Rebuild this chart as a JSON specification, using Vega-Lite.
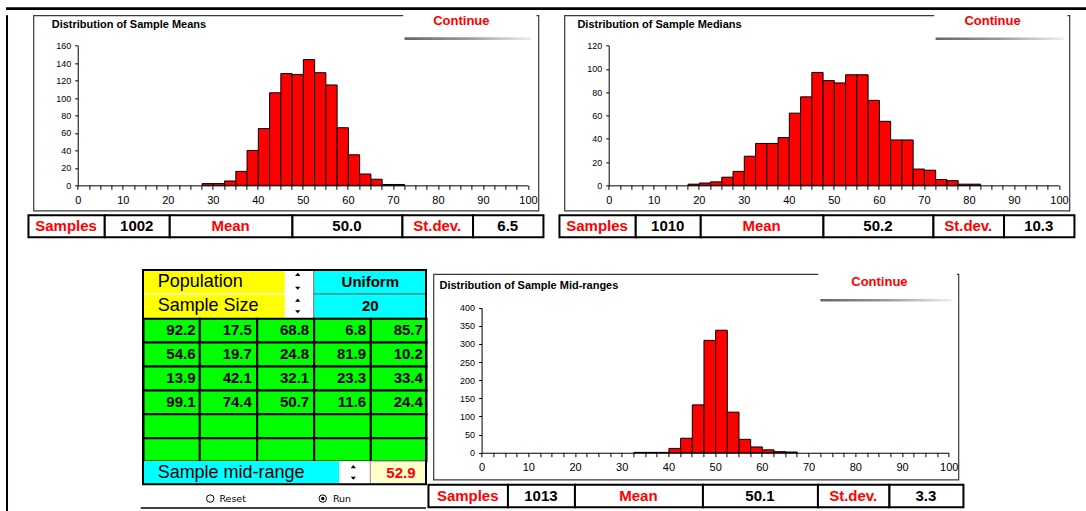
{
"$schema": "https://vega.github.io/schema/vega-lite/v6.json",
"background": "#FFFFFF",
"padding": {"left": 6, "top": 7.35, "right": 0, "bottom": 0},
"config": {"view": {"stroke": null}, "text": {"font": "Liberation Sans"}, "axis": {"labelFont": "Liberation Sans", "tickCount": 200, "format": "d"}},
"datasets": {
 "means": [
  {"start":27.5,"end":30,"count":2},{"start":30,"end":32.5,"count":2},{"start":32.5,"end":35,"count":5},{"start":35,"end":37.5,"count":16},
  {"start":37.5,"end":40,"count":40},{"start":40,"end":42.5,"count":65},{"start":42.5,"end":45,"count":106},{"start":45,"end":47.5,"count":128},
  {"start":47.5,"end":50,"count":127},{"start":50,"end":52.5,"count":144},{"start":52.5,"end":55,"count":129},{"start":55,"end":57.5,"count":115},
  {"start":57.5,"end":60,"count":66},{"start":60,"end":62.5,"count":35},{"start":62.5,"end":65,"count":13},{"start":65,"end":67.5,"count":7},
  {"start":67.5,"end":70,"count":1},{"start":70,"end":72.5,"count":1}],
 "medians": [
  {"start":17.5,"end":20,"count":1},{"start":20,"end":22.5,"count":2},{"start":22.5,"end":25,"count":3},{"start":25,"end":27.5,"count":7},
  {"start":27.5,"end":30,"count":12},{"start":30,"end":32.5,"count":25},{"start":32.5,"end":35,"count":36},{"start":35,"end":37.5,"count":36},
  {"start":37.5,"end":40,"count":41},{"start":40,"end":42.5,"count":62},{"start":42.5,"end":45,"count":76},{"start":45,"end":47.5,"count":97},
  {"start":47.5,"end":50,"count":90},{"start":50,"end":52.5,"count":88},{"start":52.5,"end":55,"count":95},{"start":55,"end":57.5,"count":95},
  {"start":57.5,"end":60,"count":73},{"start":60,"end":62.5,"count":55},{"start":62.5,"end":65,"count":39},{"start":65,"end":67.5,"count":39},
  {"start":67.5,"end":70,"count":14},{"start":70,"end":72.5,"count":13},{"start":72.5,"end":75,"count":5},{"start":75,"end":77.5,"count":4},
  {"start":77.5,"end":80,"count":1},{"start":80,"end":82.5,"count":1}],
 "midranges": [
  {"start":32.5,"end":35,"count":1},{"start":35,"end":37.5,"count":1},{"start":37.5,"end":40,"count":1},{"start":40,"end":42.5,"count":12},
  {"start":42.5,"end":45,"count":40},{"start":45,"end":47.5,"count":132},{"start":47.5,"end":50,"count":310},{"start":50,"end":52.5,"count":338},
  {"start":52.5,"end":55,"count":112},{"start":55,"end":57.5,"count":37},{"start":57.5,"end":60,"count":16},{"start":60,"end":62.5,"count":8},
  {"start":62.5,"end":65,"count":3},{"start":65,"end":67.5,"count":2}],
 "t1": [{"c":0,"t":"Samples"},{"c":1,"t":"1002"},{"c":2,"t":"Mean"},{"c":3,"t":"50.0"},{"c":4,"t":"St.dev."},{"c":5,"t":"6.5"}],
 "t2": [{"c":0,"t":"Samples"},{"c":1,"t":"1010"},{"c":2,"t":"Mean"},{"c":3,"t":"50.2"},{"c":4,"t":"St.dev."},{"c":5,"t":"10.3"}],
 "t3": [{"c":0,"t":"Samples"},{"c":1,"t":"1013"},{"c":2,"t":"Mean"},{"c":3,"t":"50.1"},{"c":4,"t":"St.dev."},{"c":5,"t":"3.3"}],
 "grid": [
  {"r":2,"c":0,"v":92.2},{"r":2,"c":1,"v":17.5},{"r":2,"c":2,"v":68.8},{"r":2,"c":3,"v":6.8},{"r":2,"c":4,"v":85.7},
  {"r":3,"c":0,"v":54.6},{"r":3,"c":1,"v":19.7},{"r":3,"c":2,"v":24.8},{"r":3,"c":3,"v":81.9},{"r":3,"c":4,"v":10.2},
  {"r":4,"c":0,"v":13.9},{"r":4,"c":1,"v":42.1},{"r":4,"c":2,"v":32.1},{"r":4,"c":3,"v":23.3},{"r":4,"c":4,"v":33.4},
  {"r":5,"c":0,"v":99.1},{"r":5,"c":1,"v":74.4},{"r":5,"c":2,"v":50.7},{"r":5,"c":3,"v":11.6},{"r":5,"c":4,"v":24.4},
  {"r":6,"c":0,"v":null},{"r":6,"c":1,"v":null},{"r":6,"c":2,"v":null},{"r":6,"c":3,"v":null},{"r":6,"c":4,"v":null},
  {"r":7,"c":0,"v":null},{"r":7,"c":1,"v":null},{"r":7,"c":2,"v":null},{"r":7,"c":3,"v":null},{"r":7,"c":4,"v":null}]
},
"spacing": 0,
"vconcat": [
 {"width": 1080, "height": 2.7, "data": {"values": [{}]}, "mark": {"type": "rect", "fill": "#000000"}, "encoding": {}},
 {"hconcat": [
  {"width": 2, "height": 500.95, "data": {"values": [{}]}, "mark": {"type": "rect", "fill": "#000000"}, "encoding": {}},
  {"vconcat": [
   {"hconcat": [
    {"vconcat": [
     {"width": 505, "height": 195.3,
      "view": {"stroke": "#3a3a3a", "strokeWidth": 1.2},
      "layer": [
       {"data": {"name": "means"},
        "mark": {"type": "bar", "fill": "#FF0000", "stroke": "#000000", "strokeWidth": 1, "binSpacing": 0},
        "encoding": {
         "x": {"field": "start", "type": "quantitative", "bin": {"binned": true}, "scale": {"domain": [0, 100], "range": [44.3, 494.6]},
               "axis": {"title": null, "tickCount": 200, "format": "d", "values": [0,2.5,5,7.5,10,12.5,15,17.5,20,22.5,25,27.5,30,32.5,35,37.5,40,42.5,45,47.5,50,52.5,55,57.5,60,62.5,65,67.5,70,72.5,75,77.5,80,82.5,85,87.5,90,92.5,95,97.5,100],
                        "labelExpr": "datum.value % 10 === 0 ? datum.label : ''", "labelOverlap": false, "labelFlush": false, "labelFontSize": 11, "labelColor": "#000000", "labelPadding": 5,
                        "tickSize": 4, "tickColor": "#000000", "domainColor": "#000000", "grid": false, "offset": -25.3}},
         "x2": {"field": "end"},
         "y": {"field": "count", "type": "quantitative", "scale": {"domain": [0, 160], "range": [170, 30.3]},
               "axis": {"title": null, "tickCount": 200, "format": "d", "values": [0,20,40,60,80,100,120,140,160], "labelOverlap": false, "labelFontSize": 9, "labelColor": "#000000", "labelPadding": 4,
                        "tickSize": 3, "tickColor": "#000000", "domainColor": "#000000", "grid": false, "offset": -44.3}}}},
       {"data": {"values": [{}]}, "mark": {"type": "rect", "fill": "#FFFFFF"},
        "encoding": {"x": {"datum": 72.28}, "x2": {"datum": 101.9}, "y": {"datum": 199.23}, "y2": {"datum": 192.4}}},
       {"data": {"values": [{}]}, "mark": {"type": "text", "text": "Continue", "align": "center", "baseline": "middle", "fontSize": 13, "fontWeight": "bold", "fill": "#FF0000"},
        "encoding": {"x": {"datum": 85.2}, "y": {"datum": 187.8}}},
       {"data": {"values": [{}]}, "mark": {"type": "rect", "fill": {"gradient": "linear", "x1": 0, "y1": 0, "x2": 1, "y2": 0, "stops": [{"offset": 0, "color": "#666666"}, {"offset": 0.5, "color": "#9a9a9a"}, {"offset": 1, "color": "#f0f0f0"}]}},
        "encoding": {"x": {"datum": 72.6}, "x2": {"datum": 100.75}, "y": {"datum": 169.5}, "y2": {"datum": 166.4}}},
       {"data": {"values": [{}]}, "mark": {"type": "text", "text": "Distribution of Sample Means", "align": "left", "baseline": "middle", "fontSize": 11, "fontWeight": "bold", "fill": "#000000"},
        "encoding": {"x": {"datum": -5.77}, "y": {"datum": 184.06}}}
      ]},
     {"width": 515, "height": 22,
      "layer": [
       {"data": {"name": "t1"}, "mark": {"type": "rect", "fill": "#FFFFFF", "stroke": "#000000", "strokeWidth": 2},
        "encoding": {"x": {"field": "c", "type": "quantitative", "bin": {"binned": true, "step": 1}, "scale": {"domain": [0,1,2,3,4,5,6], "range": [0,76.3,141.3,264,374,444.6,515]}, "axis": null}}},
       {"data": {"name": "t1"}, "mark": {"type": "text", "fontSize": 15, "fontWeight": "bold", "align": "center", "baseline": "middle"},
        "encoding": {"x": {"field": "c", "type": "quantitative", "scale": {"domain": [0,1,2,3,4,5], "range": [38.15,108.8,202.65,319,409.3,479.8]}, "axis": null},
                     "text": {"field": "t", "type": "nominal"},
                     "color": {"condition": {"test": "datum.c % 2 === 0", "value": "#FF0000"}, "value": "#000000"}}}
      ],
      "resolve": {"scale": {"x": "independent"}}}
    ], "spacing": 2.8, "center": true},
    {"vconcat": [
     {"width": 505, "height": 195.3,
      "view": {"stroke": "#3a3a3a", "strokeWidth": 1.2},
      "layer": [
       {"data": {"name": "medians"},
        "mark": {"type": "bar", "fill": "#FF0000", "stroke": "#000000", "strokeWidth": 1, "binSpacing": 0},
        "encoding": {
         "x": {"field": "start", "type": "quantitative", "bin": {"binned": true}, "scale": {"domain": [0, 100], "range": [44.3, 494.6]},
               "axis": {"title": null, "tickCount": 200, "format": "d", "values": [0,2.5,5,7.5,10,12.5,15,17.5,20,22.5,25,27.5,30,32.5,35,37.5,40,42.5,45,47.5,50,52.5,55,57.5,60,62.5,65,67.5,70,72.5,75,77.5,80,82.5,85,87.5,90,92.5,95,97.5,100],
                        "labelExpr": "datum.value % 10 === 0 ? datum.label : ''", "labelOverlap": false, "labelFlush": false, "labelFontSize": 11, "labelColor": "#000000", "labelPadding": 5,
                        "tickSize": 4, "tickColor": "#000000", "domainColor": "#000000", "grid": false, "offset": -25.3}},
         "x2": {"field": "end"},
         "y": {"field": "count", "type": "quantitative", "scale": {"domain": [0, 120], "range": [170, 30.3]},
               "axis": {"title": null, "tickCount": 200, "format": "d", "values": [0,20,40,60,80,100,120], "labelOverlap": false, "labelFontSize": 9, "labelColor": "#000000", "labelPadding": 4,
                        "tickSize": 3, "tickColor": "#000000", "domainColor": "#000000", "grid": false, "offset": -44.3}}}},
       {"data": {"values": [{}]}, "mark": {"type": "rect", "fill": "#FFFFFF"},
        "encoding": {"x": {"datum": 72.3}, "x2": {"datum": 101.9}, "y": {"datum": 149.42}, "y2": {"datum": 144.3}}},
       {"data": {"values": [{}]}, "mark": {"type": "text", "text": "Continue", "align": "center", "baseline": "middle", "fontSize": 13, "fontWeight": "bold", "fill": "#FF0000"},
        "encoding": {"x": {"datum": 85.25}, "y": {"datum": 140.87}}},
       {"data": {"values": [{}]}, "mark": {"type": "rect", "fill": {"gradient": "linear", "x1": 0, "y1": 0, "x2": 1, "y2": 0, "stops": [{"offset": 0, "color": "#666666"}, {"offset": 0.5, "color": "#9a9a9a"}, {"offset": 1, "color": "#f0f0f0"}]}},
        "encoding": {"x": {"datum": 72.6}, "x2": {"datum": 101.0}, "y": {"datum": 127.1}, "y2": {"datum": 124.8}}},
       {"data": {"values": [{}]}, "mark": {"type": "text", "text": "Distribution of Sample Medians", "align": "left", "baseline": "middle", "fontSize": 11, "fontWeight": "bold", "fill": "#000000"},
        "encoding": {"x": {"datum": -6.95}, "y": {"datum": 138.03}}}
      ]},
     {"width": 515, "height": 22,
      "layer": [
       {"data": {"name": "t2"}, "mark": {"type": "rect", "fill": "#FFFFFF", "stroke": "#000000", "strokeWidth": 2},
        "encoding": {"x": {"field": "c", "type": "quantitative", "bin": {"binned": true, "step": 1}, "scale": {"domain": [0,1,2,3,4,5,6], "range": [0,76.3,141.3,264,374,444.6,515]}, "axis": null}}},
       {"data": {"name": "t2"}, "mark": {"type": "text", "fontSize": 15, "fontWeight": "bold", "align": "center", "baseline": "middle"},
        "encoding": {"x": {"field": "c", "type": "quantitative", "scale": {"domain": [0,1,2,3,4,5], "range": [38.15,108.8,202.65,319,409.3,479.8]}, "axis": null},
                     "text": {"field": "t", "type": "nominal"},
                     "color": {"condition": {"test": "datum.c % 2 === 0", "value": "#FF0000"}, "value": "#000000"}}}
      ],
      "resolve": {"scale": {"x": "independent"}}}
    ], "spacing": 2.8, "center": true}
   ], "spacing": 13},
   {"hconcat": [
    {"width": 398.3, "height": 234,
     "layer": [
      {"data": {"values": [{}]}, "mark": {"type": "rect", "fill": "#FFFF00", "stroke": "#FFFFFF", "strokeWidth": 1},
       "encoding": {"x": {"datum": 0, "scale": {"domain": [0,1,2,3,4,5], "range": [115.3,171.6,229,286,342.6,398.3]}, "axis": null}, "x2": {"datum": 2.5},
                    "y": {"datum": 0, "scale": {"domain": [0,1,2,3,4,5,6,7,8,9,10], "range": [-4,20,44.3,68,92,116,139.7,163.7,187,210.3,234]}, "axis": null}, "y2": {"datum": 1}}},
      {"data": {"values": [{}]}, "mark": {"type": "rect", "fill": "#FFFF00", "stroke": "#FFFFFF", "strokeWidth": 1},
       "encoding": {"x": {"datum": 0}, "x2": {"datum": 2.5}, "y": {"datum": 1}, "y2": {"datum": 2}}},
      {"data": {"values": [{}]}, "mark": {"type": "rect", "fill": "#FFFFFF"},
       "encoding": {"x": {"datum": 2.5}, "x2": {"datum": 3}, "y": {"datum": 0}, "y2": {"datum": 2}}},
      {"data": {"values": [{}]}, "mark": {"type": "rect", "fill": "#00FFFF", "stroke": "#707070", "strokeWidth": 1},
       "encoding": {"x": {"datum": 3}, "x2": {"datum": 5}, "y": {"datum": 0}, "y2": {"datum": 1}}},
      {"data": {"values": [{}]}, "mark": {"type": "rect", "fill": "#00FFFF", "stroke": "#707070", "strokeWidth": 1},
       "encoding": {"x": {"datum": 3}, "x2": {"datum": 5}, "y": {"datum": 1}, "y2": {"datum": 2}}},
      {"data": {"name": "grid"}, "mark": {"type": "rect", "fill": "#00FF00", "stroke": "#000000", "strokeWidth": 2},
       "encoding": {"x": {"field": "c", "type": "quantitative", "bin": {"binned": true, "step": 1}},
                    "y": {"field": "r", "type": "quantitative", "bin": {"binned": true, "step": 1}}}},
      {"data": {"name": "grid"}, "transform": [{"filter": "isValid(datum.v)"}],
       "mark": {"type": "text", "align": "right", "baseline": "middle", "dx": 52.5, "dy": 12, "fontSize": 15, "fontWeight": "bold", "fill": "#000000"},
       "encoding": {"x": {"field": "c", "type": "quantitative"}, "y": {"field": "r", "type": "quantitative"},
                    "text": {"field": "v", "type": "quantitative", "format": ".1f"}}},
      {"data": {"values": [{}]}, "mark": {"type": "rect", "fill": "#00FFFF"},
       "encoding": {"x": {"datum": 0}, "x2": {"datum": 3.45}, "y": {"datum": 8}, "y2": {"datum": 9}}},
      {"data": {"values": [{}]}, "mark": {"type": "rect", "fill": "#FFFFFF"},
       "encoding": {"x": {"datum": 3.45}, "x2": {"datum": 4}, "y": {"datum": 8}, "y2": {"datum": 9}}},
      {"data": {"values": [{}]}, "mark": {"type": "rect", "fill": "#FFFFCC", "stroke": "#909090", "strokeWidth": 1},
       "encoding": {"x": {"datum": 4}, "x2": {"datum": 5}, "y": {"datum": 8}, "y2": {"datum": 9}}},
      {"data": {"values": [{}]}, "mark": {"type": "rect", "fillOpacity": 0, "stroke": "#000000", "strokeWidth": 2},
       "encoding": {"x": {"datum": 0}, "x2": {"datum": 5}, "y": {"datum": 0}, "y2": {"datum": 9}}},
      {"data": {"values": [{}]}, "mark": {"type": "text", "text": "Population", "align": "left", "baseline": "middle", "fontSize": 18, "fill": "#000000"},
       "encoding": {"x": {"datum": 0.26}, "y": {"datum": 0.5}}},
      {"data": {"values": [{}]}, "mark": {"type": "text", "text": "Sample Size", "align": "left", "baseline": "middle", "fontSize": 18, "fill": "#000000"},
       "encoding": {"x": {"datum": 0.26}, "y": {"datum": 1.5}}},
      {"data": {"values": [{}]}, "mark": {"type": "text", "text": "Uniform", "align": "center", "baseline": "middle", "fontSize": 15, "fontWeight": "bold", "fill": "#000000"},
       "encoding": {"x": {"datum": 4}, "y": {"datum": 0.5}}},
      {"data": {"values": [{}]}, "mark": {"type": "text", "text": "20", "align": "center", "baseline": "middle", "fontSize": 15, "fontWeight": "bold", "fill": "#000000"},
       "encoding": {"x": {"datum": 4}, "y": {"datum": 1.5}}},
      {"data": {"values": [{}]}, "mark": {"type": "text", "text": "Sample mid-range", "align": "left", "baseline": "middle", "fontSize": 18, "fill": "#000000"},
       "encoding": {"x": {"datum": 0.26}, "y": {"datum": 8.5}}},
      {"data": {"values": [{}]}, "mark": {"type": "text", "text": "52.9", "align": "center", "baseline": "middle", "fontSize": 15, "fontWeight": "bold", "fill": "#FF0000"},
       "encoding": {"x": {"datum": 4.55}, "y": {"datum": 8.5}}},
      {"data": {"values": [{}]}, "mark": {"type": "point", "shape": "M-1,0.6L1,0.6L0,-0.6Z", "size": 28, "filled": true, "color": "#000000", "opacity": 1},
       "encoding": {"x": {"datum": 2.72}, "y": {"datum": 0.18}}},
      {"data": {"values": [{}]}, "mark": {"type": "point", "shape": "M-1,-0.6L1,-0.6L0,0.6Z", "size": 28, "filled": true, "color": "#000000", "opacity": 1},
       "encoding": {"x": {"datum": 2.72}, "y": {"datum": 0.76}}},
      {"data": {"values": [{}]}, "mark": {"type": "point", "shape": "M-1,0.6L1,0.6L0,-0.6Z", "size": 28, "filled": true, "color": "#000000", "opacity": 1},
       "encoding": {"x": {"datum": 2.72}, "y": {"datum": 1.25}}},
      {"data": {"values": [{}]}, "mark": {"type": "point", "shape": "M-1,-0.6L1,-0.6L0,0.6Z", "size": 28, "filled": true, "color": "#000000", "opacity": 1},
       "encoding": {"x": {"datum": 2.72}, "y": {"datum": 1.73}}},
      {"data": {"values": [{}]}, "mark": {"type": "point", "shape": "M-1,0.6L1,0.6L0,-0.6Z", "size": 28, "filled": true, "color": "#000000", "opacity": 1},
       "encoding": {"x": {"datum": 3.7}, "y": {"datum": 8.24}}},
      {"data": {"values": [{}]}, "mark": {"type": "point", "shape": "M-1,-0.6L1,-0.6L0,0.6Z", "size": 28, "filled": true, "color": "#000000", "opacity": 1},
       "encoding": {"x": {"datum": 3.7}, "y": {"datum": 8.74}}},
      {"data": {"values": [{}]}, "mark": {"type": "point", "shape": "circle", "size": 55, "filled": false, "fill": "#FFFFFF", "stroke": "#000000", "strokeWidth": 1, "opacity": 1},
       "encoding": {"x": {"datum": 1.19}, "y": {"datum": 9.6}}},
      {"data": {"values": [{}]}, "mark": {"type": "point", "shape": "circle", "size": 55, "filled": false, "fill": "#FFFFFF", "stroke": "#000000", "strokeWidth": 1, "opacity": 1},
       "encoding": {"x": {"datum": 3.16}, "y": {"datum": 9.6}}},
      {"data": {"values": [{}]}, "mark": {"type": "point", "shape": "circle", "size": 12, "filled": true, "color": "#000000", "opacity": 1},
       "encoding": {"x": {"datum": 3.16}, "y": {"datum": 9.6}}},
      {"data": {"values": [{}]}, "mark": {"type": "text", "text": "Reset", "align": "left", "baseline": "middle", "font": "DejaVu Sans", "fontSize": 9.5, "fill": "#000000"},
       "encoding": {"x": {"datum": 1.35}, "y": {"datum": 9.6}}},
      {"data": {"values": [{}]}, "mark": {"type": "text", "text": "Run", "align": "left", "baseline": "middle", "font": "DejaVu Sans", "fontSize": 9.5, "fill": "#000000"},
       "encoding": {"x": {"datum": 3.34}, "y": {"datum": 9.6}}},
      {"data": {"values": [{}]}, "mark": {"type": "rule", "stroke": "#000000", "strokeWidth": 1.5},
       "encoding": {"x": {"datum": -0.04}, "x2": {"datum": 5}, "y": {"datum": 10}}}
     ]},
    {"vconcat": [
     {"width": 525, "height": 205.5,
      "view": {"stroke": "#3a3a3a", "strokeWidth": 1.2},
      "layer": [
       {"data": {"name": "midranges"},
        "mark": {"type": "bar", "fill": "#FF0000", "stroke": "#000000", "strokeWidth": 1, "binSpacing": 0},
        "encoding": {
         "x": {"field": "start", "type": "quantitative", "bin": {"binned": true}, "scale": {"domain": [0, 100], "range": [48.2, 515.3]},
               "axis": {"title": null, "tickCount": 200, "format": "d", "values": [0,2.5,5,7.5,10,12.5,15,17.5,20,22.5,25,27.5,30,32.5,35,37.5,40,42.5,45,47.5,50,52.5,55,57.5,60,62.5,65,67.5,70,72.5,75,77.5,80,82.5,85,87.5,90,92.5,95,97.5,100],
                        "labelExpr": "datum.value % 10 === 0 ? datum.label : ''", "labelOverlap": false, "labelFlush": false, "labelFontSize": 11, "labelColor": "#000000", "labelPadding": 5,
                        "tickSize": 4, "tickColor": "#000000", "domainColor": "#000000", "grid": false, "offset": -26.8}},
         "x2": {"field": "end"},
         "y": {"field": "count", "type": "quantitative", "scale": {"domain": [0, 400], "range": [178.7, 33.7]},
               "axis": {"title": null, "tickCount": 200, "format": "d", "values": [0,50,100,150,200,250,300,350,400], "labelOverlap": false, "labelFontSize": 9, "labelColor": "#000000", "labelPadding": 4,
                        "tickSize": 3, "tickColor": "#000000", "domainColor": "#000000", "grid": false, "offset": -48.2}}}},
       {"data": {"values": [{}]}, "mark": {"type": "rect", "fill": "#FFFFFF"},
        "encoding": {"x": {"datum": 72.1}, "x2": {"datum": 101.75}, "y": {"datum": 509.5}, "y2": {"datum": 487.4}}},
       {"data": {"values": [{}]}, "mark": {"type": "text", "text": "Continue", "align": "center", "baseline": "middle", "fontSize": 13, "fontWeight": "bold", "fill": "#FF0000"},
        "encoding": {"x": {"datum": 85.17}, "y": {"datum": 471.7}}},
       {"data": {"values": [{}]}, "mark": {"type": "rect", "fill": {"gradient": "linear", "x1": 0, "y1": 0, "x2": 1, "y2": 0, "stops": [{"offset": 0, "color": "#666666"}, {"offset": 0.5, "color": "#9a9a9a"}, {"offset": 1, "color": "#f0f0f0"}]}},
        "encoding": {"x": {"datum": 72.53}, "x2": {"datum": 100.73}, "y": {"datum": 424.0}, "y2": {"datum": 417.1}}},
       {"data": {"values": [{}]}, "mark": {"type": "text", "text": "Distribution of Sample Mid-ranges", "align": "left", "baseline": "middle", "fontSize": 11, "fontWeight": "bold", "fill": "#000000"},
        "encoding": {"x": {"datum": -9.01}, "y": {"datum": 459.9}}}
      ]},
     {"width": 535, "height": 22.5,
      "layer": [
       {"data": {"name": "t3"}, "mark": {"type": "rect", "fill": "#FFFFFF", "stroke": "#000000", "strokeWidth": 2},
        "encoding": {"x": {"field": "c", "type": "quantitative", "bin": {"binned": true, "step": 1}, "scale": {"domain": [0,1,2,3,4,5,6], "range": [0,79.5,146.5,274.5,389.5,461,535]}, "axis": null}}},
       {"data": {"name": "t3"}, "mark": {"type": "text", "fontSize": 15, "fontWeight": "bold", "align": "center", "baseline": "middle"},
        "encoding": {"x": {"field": "c", "type": "quantitative", "scale": {"domain": [0,1,2,3,4,5], "range": [39.75,113,210.5,332,425.25,498]}, "axis": null},
                     "text": {"field": "t", "type": "nominal"},
                     "color": {"condition": {"test": "datum.c % 2 === 0", "value": "#FF0000"}, "value": "#000000"}}}
      ],
      "resolve": {"scale": {"x": "independent"}}}
    ], "spacing": 2.8, "center": true}
   ], "spacing": -4}
  ], "spacing": 28.7}
 ], "spacing": 18.7}
]
}
